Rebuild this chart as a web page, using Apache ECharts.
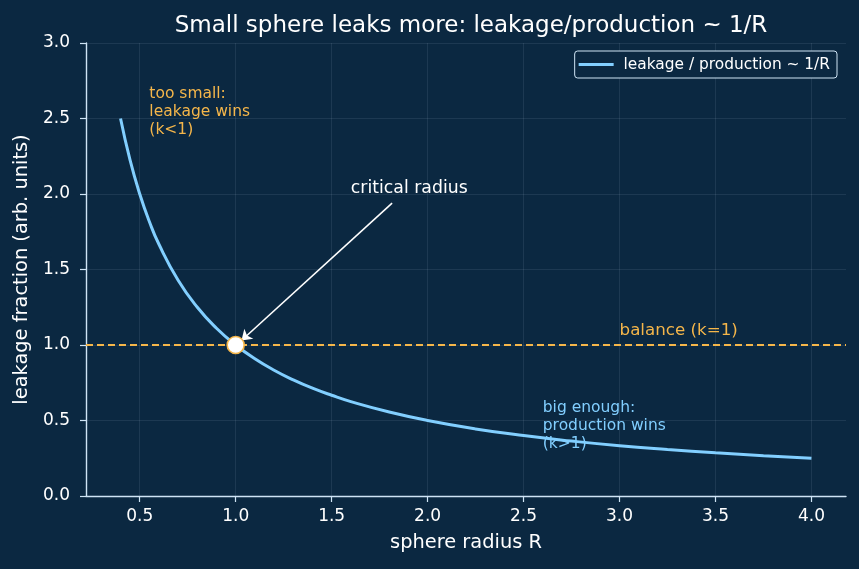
<!DOCTYPE html>
<html>
<head>
<meta charset="utf-8">
<script src="https://cdn.jsdelivr.net/npm/echarts@6/dist/echarts.min.js"></script>
<style>
  html, body { margin: 0; padding: 0; background: #0b2841; }
  #chart { width: 859px; height: 569px; }
</style>
</head>
<body>
<div id="chart"></div>
<script>
// radius R and leakage/production
var radius = [0.4, 0.45, 0.5, 0.55, 0.6, 0.7, 0.8, 0.9, 1.0, 1.1, 1.2, 1.3, 1.4, 1.5, 1.6, 1.8, 2.0, 2.25, 2.5, 2.75, 3.0, 3.25, 3.5, 3.75, 4.0];
var leakage = [2.5, 2.222, 2.0, 1.818, 1.667, 1.429, 1.25, 1.111, 1.0, 0.909, 0.833, 0.769, 0.714, 0.667, 0.625, 0.556, 0.5, 0.444, 0.4, 0.364, 0.333, 0.308, 0.286, 0.267, 0.25];
var xTicks = [0.5, 1.0, 1.5, 2.0, 2.5, 3.0, 3.5, 4.0];
var balance = 1.0;
var critical = [1.0, 1.0];

var font = "DejaVu Sans";
var bg = "#0b2841";
var axisCol = "#cfe4f5";
var curveCol = "#82cfff";
var orange = "#f5b64a";
var gridCol = "rgba(200,220,240,0.13)";

var chart = echarts.init(document.getElementById("chart"));

var option = {
  backgroundColor: bg,
  animation: false,
  textStyle: { fontFamily: font },
  title: {
    text: "Small sphere leaks more: leakage/production ~ 1/R",
    left: 466,
    textAlign: "center",
    top: 10,
    textStyle: { color: "#ffffff", fontSize: 23, fontWeight: "normal", fontFamily: font },
  },
  grid: { left: 86, right: 13, top: 43, bottom: 73 },
  legend: {
    data: ["leakage / production ~ 1/R"],
    right: 22,
    top: 51,
    orient: "vertical",
    backgroundColor: bg,
    borderColor: axisCol,
    borderWidth: 1,
    borderRadius: 3,
    padding: [5, 7, 5, 4],
    itemWidth: 35,
    itemHeight: 3,
    icon: "rect",
    formatter: " {name}",
    textStyle: { color: "#ffffff", fontSize: 15.4, lineHeight: 17, fontFamily: font },
  },
  xAxis: {
    type: "value",
    min: 0.22,
    max: 4.18,
    name: "sphere radius R",
    nameLocation: "middle",
    nameGap: 37,
    nameTextStyle: { color: "#ffffff", fontSize: 19.4, fontFamily: font },
    axisLine: { show: true, onZero: false, lineStyle: { color: axisCol, width: 1.4 } },
    axisTick: { show: true, customValues: xTicks, length: 6, lineStyle: { color: axisCol, width: 1.2 } },
    axisLabel: {
      customValues: xTicks,
      color: "#ffffff",
      fontSize: 17,
      margin: 12,
      formatter: function (v) { return v.toFixed(1); },
    },
    splitLine: { show: true, lineStyle: { color: gridCol, width: 0.8 } },
  },
  yAxis: {
    type: "value",
    min: 0,
    max: 3.0,
    interval: 0.5,
    name: "leakage fraction (arb. units)",
    nameLocation: "middle",
    nameGap: 55,
    nameTextStyle: { color: "#ffffff", fontSize: 19.4, fontFamily: font },
    axisLine: { show: true, lineStyle: { color: axisCol, width: 1.4 } },
    axisTick: { show: true, length: 6, lineStyle: { color: axisCol, width: 1.2 } },
    axisLabel: {
      color: "#ffffff",
      fontSize: 17,
      margin: 16,
      formatter: function (v) { return v.toFixed(1); },
    },
    splitLine: { show: true, lineStyle: { color: gridCol, width: 0.8 } },
  },
  series: [
    {
      name: "leakage / production ~ 1/R",
      type: "line",
      data: radius.map(function (r, i) { return [r, leakage[i]]; }),
      smooth: 0.5,
      showSymbol: false,
      lineStyle: { color: curveCol, width: 3 },
      itemStyle: { color: curveCol },
      z: 3,
      markLine: {
        silent: true,
        symbol: ["none", "none"],
        label: { show: false },
        lineStyle: { color: orange, type: [7, 4], width: 2 },
        data: [{ yAxis: balance }],
      },
    },
    {
      type: "line",
      data: [],
      markLine: {
        silent: true,
        symbol: ["none", "arrow"],
        symbolSize: 10,
        label: { show: false },
        lineStyle: { color: "#ffffff", type: "solid", width: 1.6 },
        data: [[{ coord: [1.815, 1.94] }, { coord: [1.03, 1.03] }]],
      },
    },
    {
      type: "scatter",
      data: [critical],
      symbol: "circle",
      symbolSize: 17,
      itemStyle: { color: "#ffffff", borderColor: orange, borderWidth: 1.6, opacity: 1 },
      z: 5,
    },
    {
      type: "scatter",
      symbolSize: 0,
      silent: true,
      itemStyle: { opacity: 1 },
      data: [
        { value: [0.55, 2.72], label: { formatter: "too small:\nleakage wins\n(k<1)", color: orange } },
        { value: [2.6, 0.64], label: { formatter: "big enough:\nproduction wins\n(k>1)", color: curveCol } },
        { value: [1.6, 2.1], label: { formatter: "critical radius", color: "#ffffff", fontSize: 17.3, lineHeight: 19 } },
        {
          value: [3.0, 1.035],
          label: { formatter: "balance (k=1)", color: orange, fontSize: 16.7, lineHeight: 19, verticalAlign: "bottom" },
        },
      ],
      label: {
        show: true,
        position: [0, 0],
        align: "left",
        verticalAlign: "top",
        fontSize: 15.5,
        lineHeight: 18,
        fontFamily: font,
      },
      z: 6,
    },
  ],
};

chart.setOption(option);
</script>
</body>
</html>
